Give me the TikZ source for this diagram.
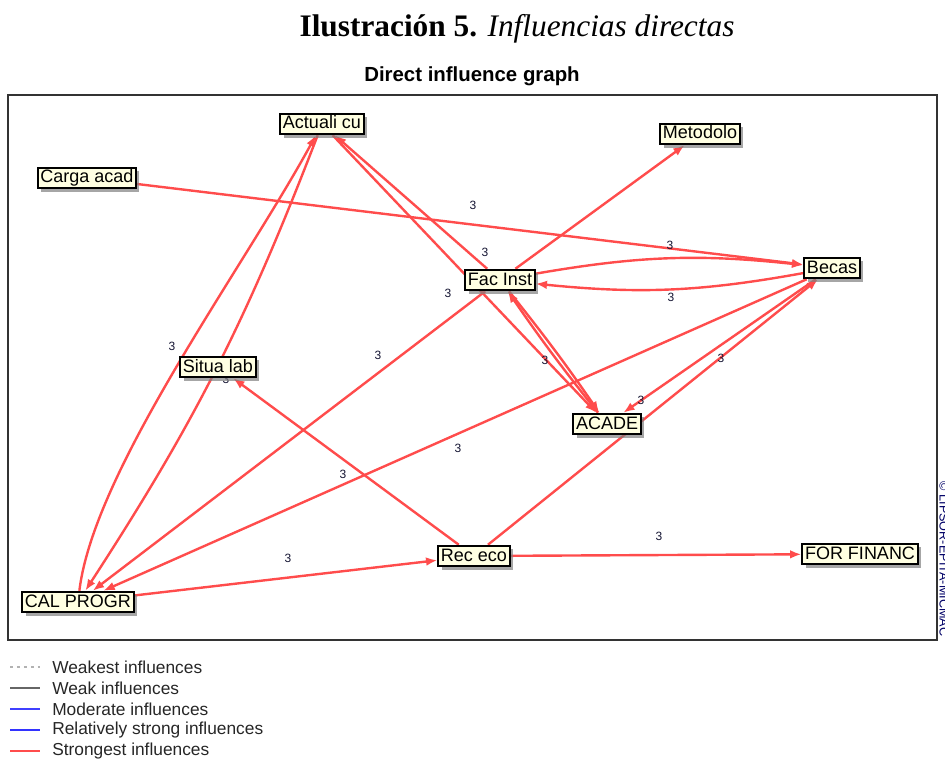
\documentclass[tikz,border=0pt]{standalone}
\usepackage{fontspec}
\setmainfont{Liberation Serif}
\setsansfont{Liberation Sans}
\usetikzlibrary{shadows,backgrounds,arrows.meta}

\definecolor{strongred}{RGB}{255,76,76}
\definecolor{boxfill}{RGB}{255,255,226}
\definecolor{valink}{RGB}{20,20,50}

\tikzset{
 var/.style={draw=black,line width=1.4pt,fill=boxfill,inner xsep=2pt,inner ysep=1.5pt,
   text height=10pt,text depth=2.5pt,font=\sffamily\fontsize{13.5}{14}\selectfont,
   drop shadow={shadow xshift=2.4pt,shadow yshift=-2.4pt,fill=black!50,opacity=.7}},
 infl/.style={->,>={Latex[length=8.5pt,width=6.5pt]},line width=1.8pt,strongred},
 val/.style={inner sep=0pt,text=valink,font=\sffamily\fontsize{9}{9}\selectfont},
 leg/.style={anchor=west,inner sep=0pt,text=black!85,font=\sffamily\fontsize{13}{13}\selectfont}
}

\begin{document}
\begin{tikzpicture}[x=0.75pt,y=-0.75pt]
 \useasboundingbox (0,0) rectangle (945,759);

 \node (title) at (517,29) {\fontsize{23.5}{26}\selectfont\textbf{Ilustración 5.} \textit{Influencias directas}};
 \node (gtitle) at (472,76) {\sffamily\bfseries\fontsize{15.3}{17}\selectfont Direct influence graph};
 \draw[line width=1.2pt,black!80] (8,95) rectangle (937,640);
 \node[rotate=-90,inner sep=0pt,text=blue!40!black,font=\sffamily\fontsize{9.5}{9.5}\selectfont] (micmac) at (944,559) {© LIPSOR-EPITA-MICMAC};

 % variables
 \node[var] (act) at (322,124) {Actuali cu};
 \node[var] (meto) at (700,134) {Metodolo};
 \node[var] (carga) at (87,178) {Carga acad};
 \node[var] (fac) at (500,280) {Fac Inst};
 \node[var] (becas) at (832,268) {Becas};
 \node[var] (situa) at (218,367) {Situa lab};
 \node[var] (acade) at (607,424) {ACADE};
 \node[var] (rec) at (474,556) {Rec eco};
 \node[var] (forf) at (860,554) {FOR FINANC};
 \node[var] (cal) at (78,602) {CAL PROGR};

 % influences
 \begin{pgfonlayer}{background}
 \draw[infl] (carga) -- (becas);
 \draw[infl] (fac) to[bend left=8] (becas);
 \draw[infl] (becas) to[bend left=8] (fac);
 \draw[infl] (fac) -- (meto);
 \draw[infl] (fac) -- (act);
 \draw[infl] (act) -- (acade);
 \draw[infl] (fac) to[bend left=2] (acade);
 \draw[infl] (acade) to[bend left=2] (fac);
 \draw[infl] (cal) .. controls (94,470) and (243,269) .. (act);
 \draw[infl] (act) to[bend left=6] (cal);
 \draw[infl] (becas) -- (acade);
 \draw[infl] (rec) -- (becas);
 \draw[infl] (becas) -- (cal);
 \draw[infl] (fac) -- (cal);
 \draw[infl] (rec) -- (situa);
 \draw[infl] (cal) -- (rec);
 \draw[infl] (rec) -- (forf);

 \node[val] (v1) at (473,205) {3};
 \node[val] (v2) at (485,252) {3};
 \node[val] (v3) at (670,245) {3};
 \node[val] (v4) at (671,297) {3};
 \node[val] (v5) at (448,293) {3};
 \node[val] (v6) at (378,355) {3};
 \node[val] (v7) at (172,346) {3};
 \node[val] (v8) at (226,379) {3};
 \node[val] (v9) at (545,360) {3};
 \node[val] (v10) at (721,358) {3};
 \node[val] (v11) at (641,400) {3};
 \node[val] (v12) at (458,448) {3};
 \node[val] (v13) at (343,474) {3};
 \node[val] (v14) at (288,558) {3};
 \node[val] (v15) at (659,536) {3};
 \end{pgfonlayer}

 % legend
 \draw[dash pattern=on 2.2pt off 3pt,line width=0.9pt,black!30] (10,667) -- (40,667);
 \node[leg] (lg1) at (52,667) {Weakest influences};
 \draw[line width=0.9pt,black!60] (10,688) -- (40,688);
 \node[leg] (lg2) at (52,688) {Weak influences};
 \draw[line width=0.9pt,blue!75] (10,709) -- (40,709);
 \node[leg] (lg3) at (52,709) {Moderate influences};
 \draw[line width=2pt,blue!80] (10,730) -- (40,730);
 \node[leg] (lg4) at (52,730) {Relatively strong influences};
 \draw[line width=2pt,strongred] (10,751) -- (40,751);
 \node[leg] (lg5) at (52,751) {Strongest influences};
\end{tikzpicture}
\end{document}
